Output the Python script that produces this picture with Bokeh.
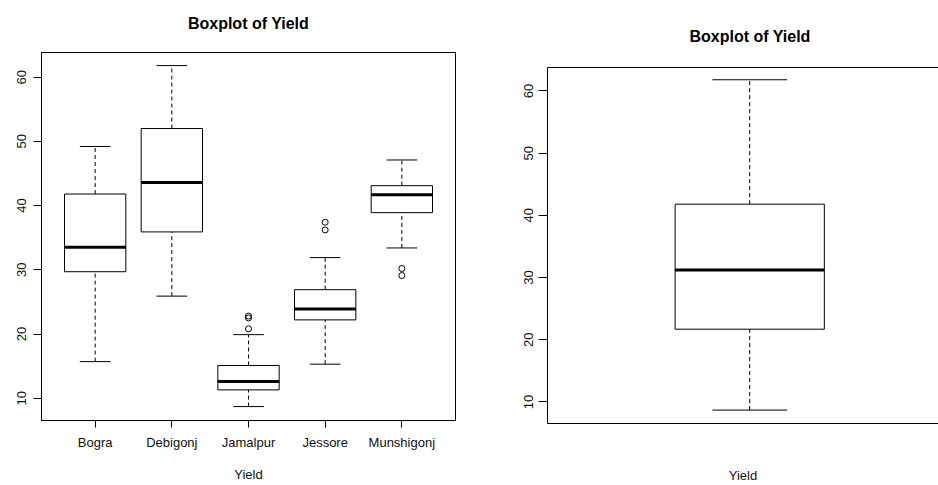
from bokeh.plotting import figure
from bokeh.layouts import row, column
from bokeh.models import Range1d, FixedTicker, LinearAxis, ColumnDataSource
from bokeh.transform import dodge
from bokeh.embed import file_html
from bokeh.resources import INLINE

# ---- data ----
cats = ["Bogra", "Debigonj", "Jamalpur", "Jessore", "Munshigonj"]
lower = [15.7, 25.9, 8.7, 15.3, 33.4]
q1 = [29.7, 35.9, 11.3, 22.2, 38.9]
median = [33.5, 43.6, 12.6, 23.9, 41.7]
q3 = [41.8, 52.0, 15.1, 26.9, 43.1]
upper = [49.2, 61.8, 19.9, 31.9, 47.1]
out_cat = ["Jamalpur", "Jamalpur", "Jamalpur", "Jessore", "Jessore", "Munshigonj", "Munshigonj"]
out_val = [22.5, 22.8, 20.8, 37.4, 36.2, 30.2, 29.1]

all_lower = [8.7]
all_q1 = [21.7]
all_median = [31.2]
all_q3 = [41.8]
all_upper = [61.8]

y_ticks = [10, 20, 30, 40, 50, 60]
title_text = "Boxplot of Yield"
x_label = "Yield"

FONT = "Liberation Sans"
DASH = "4 3"


def style(p):
    p.xgrid.visible = False
    p.ygrid.visible = False
    p.background_fill_color = "white"
    p.border_fill_color = "white"
    for ax in p.axis:
        ax.major_label_text_font = FONT
        ax.major_label_text_font_size = "13px"
        ax.major_label_text_color = "#111111"
        ax.axis_label_text_font = FONT
        ax.axis_label_text_font_size = "13px"
        ax.axis_label_text_font_style = "normal"
        ax.axis_label_text_color = "#111111"
        ax.axis_line_color = "black"
        ax.major_tick_line_color = "black"
        ax.minor_tick_line_color = None
        ax.major_tick_in = 0
    p.yaxis.ticker = FixedTicker(ticks=y_ticks)
    p.yaxis.major_label_orientation = "vertical"


def title_axis(ax, standoff):
    ax.axis_label = title_text
    ax.axis_label_text_font = FONT
    ax.axis_label_text_font_size = "16px"
    ax.axis_label_text_font_style = "bold"
    ax.axis_label_text_color = "black"
    ax.axis_label_standoff = standoff
    ax.major_tick_out = 0


def draw_boxes(p, src, box_w, cap_w):
    p.segment(x0="x", y0="q3", x1="x", y1="upper", source=src,
              line_color="black", line_width=1, line_dash=DASH)
    p.segment(x0="x", y0="lower", x1="x", y1="q1", source=src,
              line_color="black", line_width=1, line_dash=DASH)
    p.segment(x0=dodge("x", -cap_w / 2), y0="upper", x1=dodge("x", cap_w / 2), y1="upper",
              source=src, line_color="black", line_width=1)
    p.segment(x0=dodge("x", -cap_w / 2), y0="lower", x1=dodge("x", cap_w / 2), y1="lower",
              source=src, line_color="black", line_width=1)
    p.vbar(x="x", width=box_w, bottom="q1", top="q3", source=src,
           fill_color="white", line_color="black", line_width=1)
    p.segment(x0=dodge("x", -box_w / 2), y0="median", x1=dodge("x", box_w / 2), y1="median",
              source=src, line_color="black", line_width=3)


# ---- left: by district ----
xs = list(range(1, len(cats) + 1))
src1 = ColumnDataSource(dict(x=xs, lower=lower, q1=q1, median=median, q3=q3, upper=upper))
out_x = [cats.index(c) + 1 for c in out_cat]

p1 = figure(width=500, height=485,
            x_range=Range1d(0.3, 5.7), y_range=Range1d(6.53, 63.84),
            output_backend="svg", toolbar_location=None,
            min_border_left=41, min_border_right=45, min_border_top=52, min_border_bottom=65)
top1 = LinearAxis(ticker=FixedTicker(ticks=[]))
p1.add_layout(top1, "above")
style(p1)
title_axis(top1, 21)
p1.outline_line_color = "black"
p1.outline_line_alpha = 1.0
bottom1 = p1.below[0]
bottom1.ticker = FixedTicker(ticks=xs)
bottom1.major_label_overrides = {x: c for x, c in zip(xs, cats)}
bottom1.major_tick_out = 7
bottom1.major_label_standoff = 7
bottom1.axis_label = x_label
bottom1.axis_label_standoff = 14
p1.yaxis.major_tick_out = 8
p1.yaxis.major_label_standoff = 7
draw_boxes(p1, src1, 0.8, 0.4)
p1.scatter(x=out_x, y=out_val, marker="circle", size=6, fill_color=None,
           line_color="black", line_width=1)

# ---- right: all yield ----
src2 = ColumnDataSource(dict(x=[1], lower=all_lower, q1=all_q1, median=all_median,
                             q3=all_q3, upper=all_upper))
p2 = figure(width=438, height=485, title=title_text,
            x_range=Range1d(0.458, 1.506), y_range=Range1d(6.54, 63.77),
            output_backend="svg", toolbar_location=None,
            min_border_left=47, min_border_right=0, min_border_top=67, min_border_bottom=59)
top2 = LinearAxis(ticker=FixedTicker(ticks=[]))
p2.add_layout(top2, "above")
style(p2)
top2.major_tick_out = 0
p2.title.text_font = FONT
p2.title.text_font_size = "16px"
p2.title.text_font_style = "bold"
p2.title.text_color = "black"
p2.title.standoff = 46
p2.title.align = "left"
p2.title.offset = 142
p2.outline_line_color = None
bottom2 = p2.below[0]
bottom2.ticker = FixedTicker(ticks=[])
bottom2.major_tick_out = 0
bottom2.axis_label = x_label
bottom2.axis_label_standoff = 44
p2.yaxis.major_tick_out = 9
p2.yaxis.major_label_standoff = 5
draw_boxes(p2, src2, 0.4, 0.2)

layout = row(column(p1), column(p2))
open("out.html", "w").write(file_html(layout, INLINE))
